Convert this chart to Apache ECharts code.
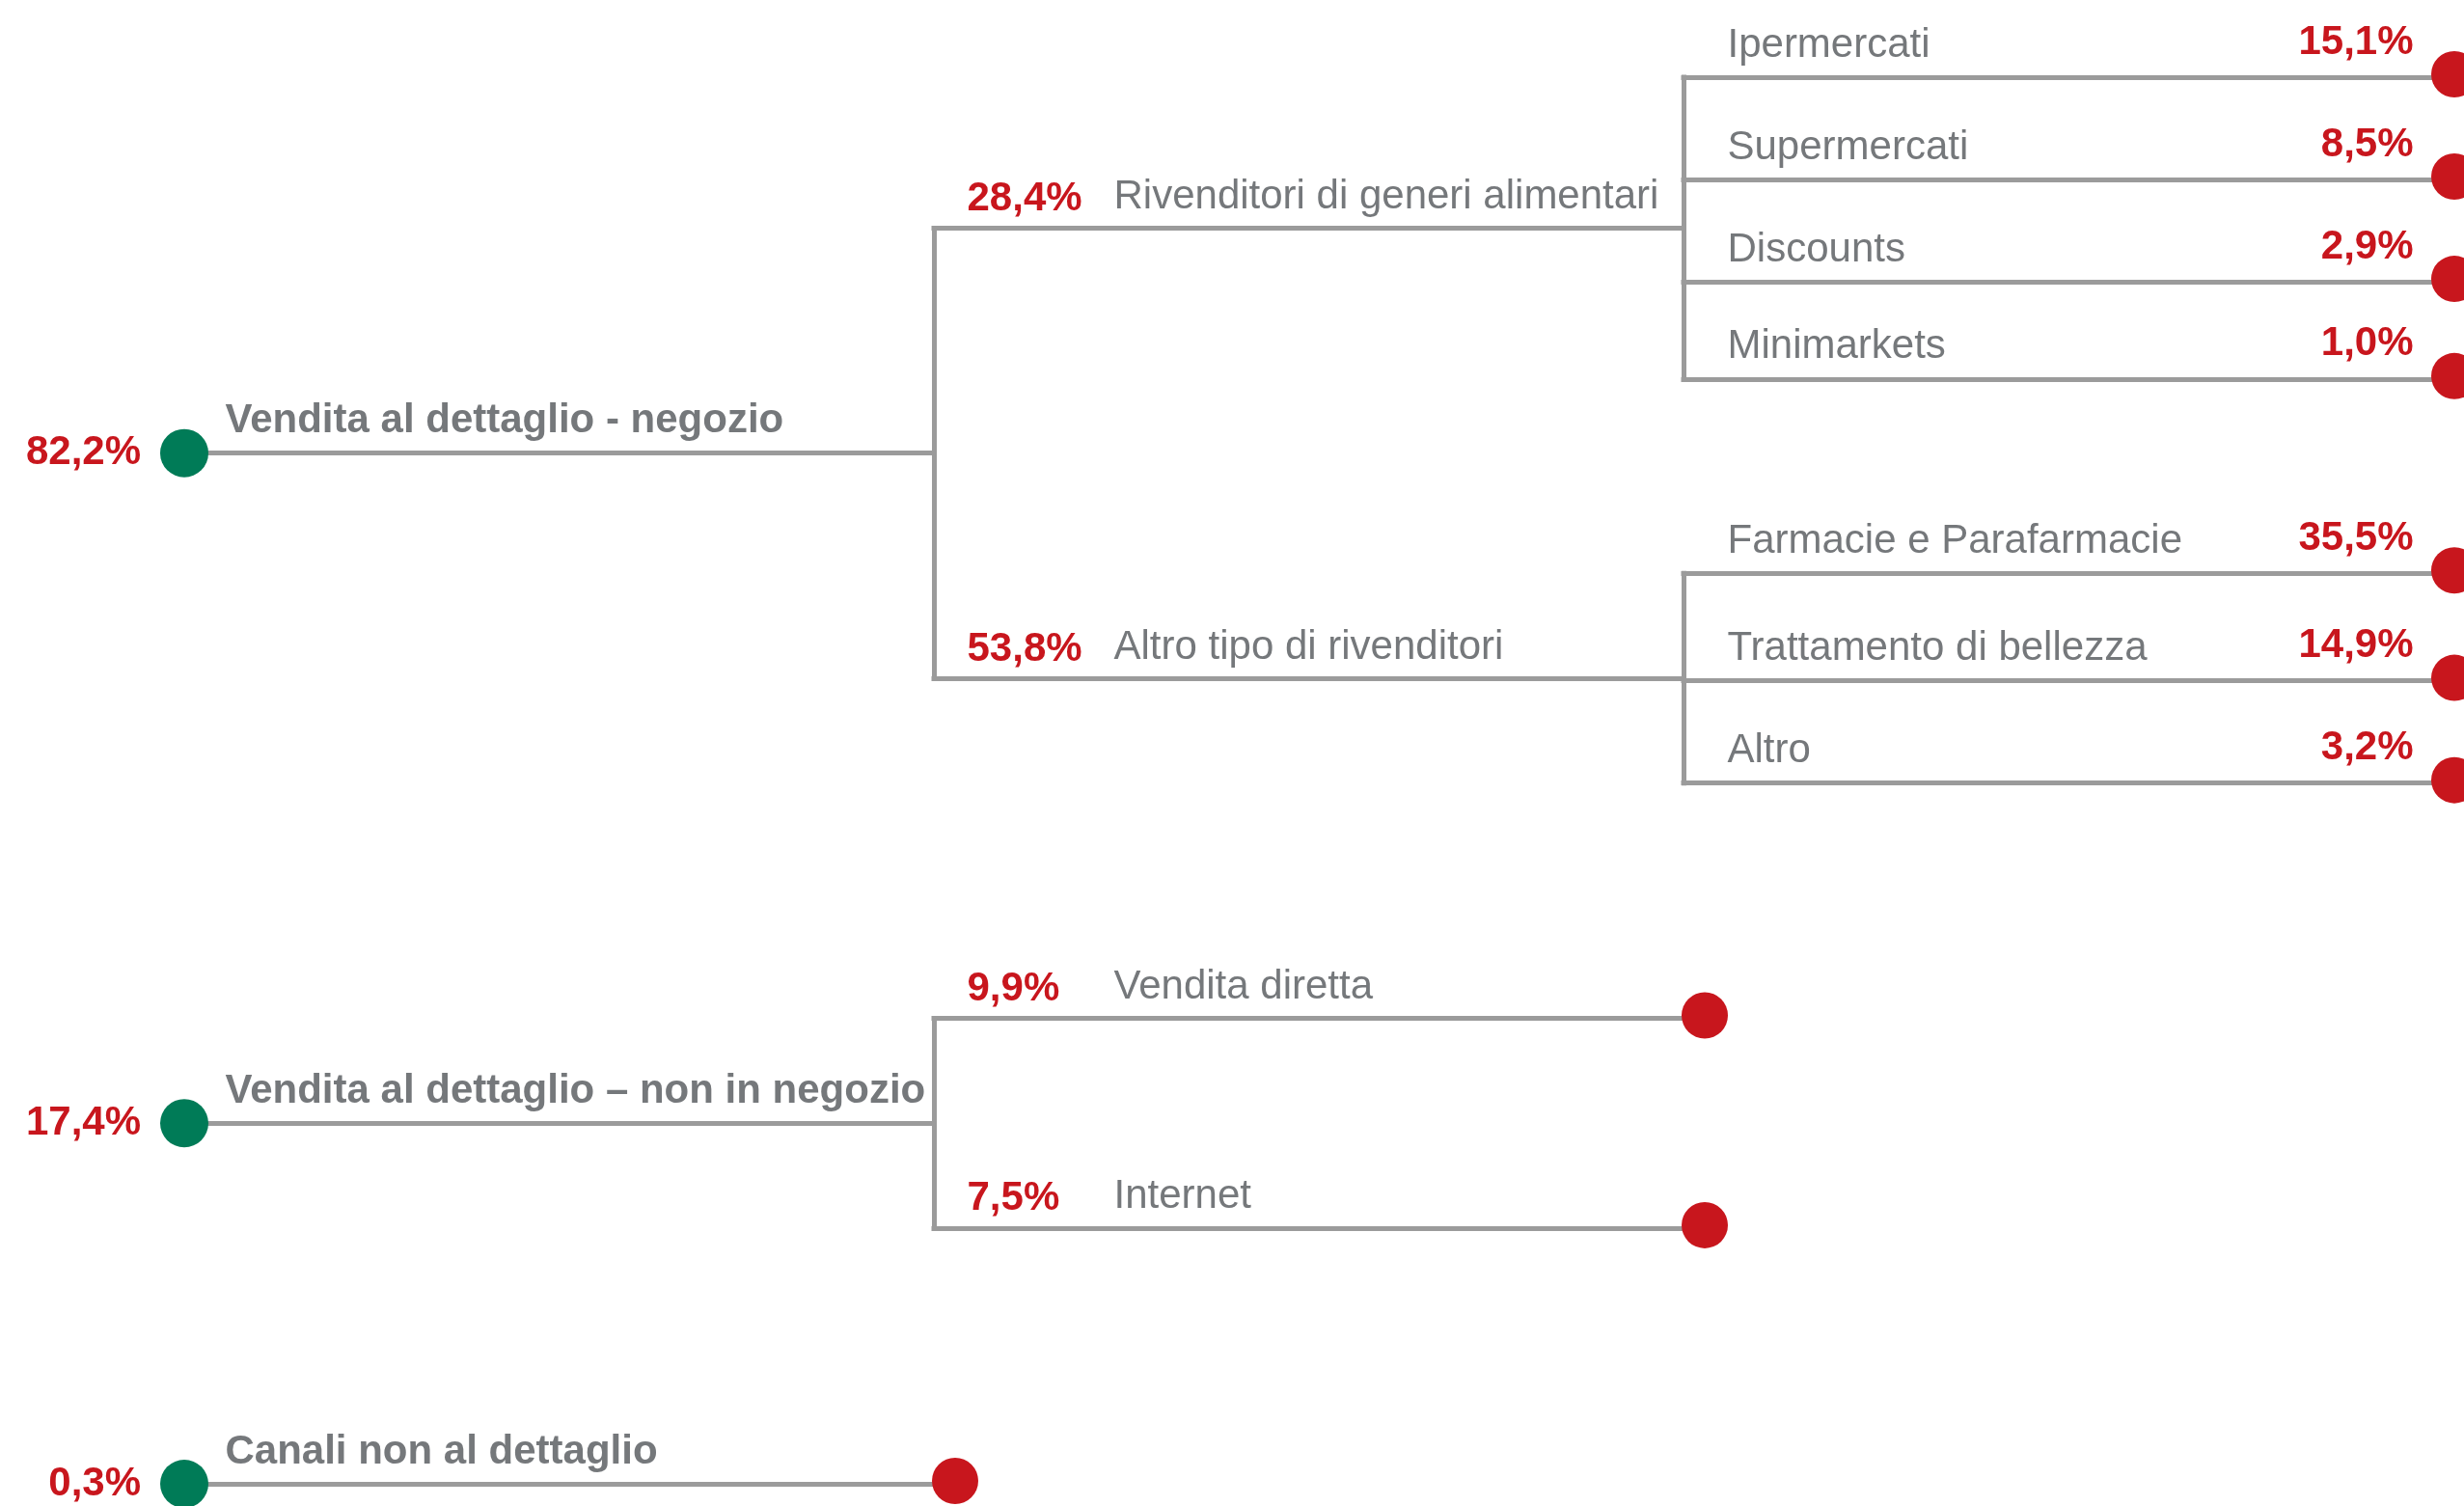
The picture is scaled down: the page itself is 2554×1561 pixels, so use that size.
<!DOCTYPE html>
<html>
<head>
<meta charset="utf-8">
<script src="https://cdn.jsdelivr.net/npm/echarts@6/dist/echarts.min.js"></script>
<style>
    html, body { margin: 0; padding: 0; background: #fff; }
    #chart { width: 2554px; height: 1561px; }
</style>
</head>
<body>
<div id="chart"></div>
<script>
// --- dati (quote %) ---
const channels = ['Vendita al dettaglio - negozio', 'Vendita al dettaglio – non in negozio', 'Canali non al dettaglio'];
const channelShares = [82.2, 17.4, 0.3];

const storeTypes = ['Rivenditori di generi alimentari', 'Altro tipo di rivenditori'];
const storeTypeShares = [28.4, 53.8];

const groceryOutlets = ['Ipermercati', 'Supermercati', 'Discounts', 'Minimarkets'];
const groceryShares = [15.1, 8.5, 2.9, 1.0];

const otherOutlets = ['Farmacie e Parafarmacie', 'Trattamento di bellezza', 'Altro'];
const otherShares = [35.5, 14.9, 3.2];

const nonStoreChannels = ['Vendita diretta', 'Internet'];
const nonStoreShares = [9.9, 7.5];

// layout: riga verticale di ogni foglia, dall'alto in basso
const leafRows = [0, 1, 2, 2.95, 4.85, 5.9, 6.9, 9.2, 11.25, 13.75];

const RED = '#c8161d';
const GREEN = '#007b57';
const TEXT_GRAY = '#75787b';
const LINE_GRAY = '#9b9b9b';
const FONT = '"Liberation Sans", Arial, sans-serif';
const FONT_SIZE = 42;

function makeNodes(names, shares, kids) {
    return names.map((name, i) => ({
        name: name,
        value: shares[i],
        children: kids ? kids[i] : []
    }));
}

const tree = makeNodes(channels, channelShares, [
    makeNodes(storeTypes, storeTypeShares, [
        makeNodes(groceryOutlets, groceryShares),
        makeNodes(otherOutlets, otherShares)
    ]),
    makeNodes(nonStoreChannels, nonStoreShares),
    []
]);

// posizioni: colonna = profondità, riga = foglie o media dei figli
let leafIndex = 0;
function place(node, depth) {
    node.depth = depth;
    if (node.children.length) {
        node.children.forEach(c => place(c, depth + 1));
        const first = node.children[0];
        const last = node.children[node.children.length - 1];
        node.y = (first.y + last.y) / 2;
    } else {
        node.y = leafRows[leafIndex++];
    }
}
tree.forEach(n => place(n, 0));

function pct(v) {
    return v.toFixed(1).replace('.', ',') + '%';
}

const segments = [];
const rootDots = [];
const leafDots = [];
const labels = [];

function textLabel(x, y, text, opts) {
    labels.push({
        value: [x, y],
        label: Object.assign({
            show: true,
            formatter: text,
            fontFamily: FONT,
            fontSize: FONT_SIZE,
            opacity: 1,
            distance: 0
        }, opts)
    });
}

function walk(node) {
    const d = node.depth;
    segments.push({ coords: [[d, node.y], [d + 1, node.y]] });

    if (node.children.length) {
        const first = node.children[0];
        const last = node.children[node.children.length - 1];
        segments.push({ coords: [[d + 1, first.y], [d + 1, last.y]] });
        node.children.forEach(walk);
    } else {
        leafDots.push([d + 1, node.y]);
    }

    if (d === 0) {
        rootDots.push({ value: [d, node.y], pct: pct(node.value) });
        textLabel(d, node.y, node.name, {
            position: 'right', offset: [42, -33],
            color: TEXT_GRAY, fontWeight: 'bold'
        });
    } else if (d === 1) {
        textLabel(d, node.y, pct(node.value), {
            position: 'right', offset: [34, -30],
            color: RED, fontWeight: 'bold'
        });
        textLabel(d, node.y, node.name, {
            position: 'right', offset: [186, -32],
            color: TEXT_GRAY
        });
    } else {
        textLabel(d, node.y, node.name, {
            position: 'right', offset: [45, -33],
            color: TEXT_GRAY
        });
        textLabel(d + 1, node.y, pct(node.value), {
            position: 'left', offset: [-20, -36],
            color: RED, fontWeight: 'bold'
        });
    }
}
tree.forEach(walk);

const chart = echarts.init(document.getElementById('chart'), null, { renderer: 'canvas' });

chart.setOption({
    animation: false,
    backgroundColor: '#fff',
    grid: { left: 191, right: 32, top: 80, bottom: 23 },
    xAxis: { type: 'value', min: 0, max: 3, show: false },
    yAxis: { type: 'value', min: 0, max: leafRows[leafRows.length - 1], inverse: true, show: false },
    series: [
        {
            type: 'lines',
            coordinateSystem: 'cartesian2d',
            data: segments,
            silent: true,
            clip: false,
            z: 1,
            lineStyle: { color: LINE_GRAY, width: 5, opacity: 1, cap: 'square' }
        },
        {
            type: 'scatter',
            data: rootDots,
            symbolSize: 50,
            clip: false,
            silent: true,
            z: 3,
            itemStyle: { color: GREEN, opacity: 1 },
            label: {
                show: true,
                position: 'left',
                distance: 20,
                formatter: p => p.data.pct,
                color: RED,
                opacity: 1,
                fontWeight: 'bold',
                fontFamily: FONT,
                fontSize: FONT_SIZE
            }
        },
        {
            type: 'scatter',
            data: leafDots,
            symbolSize: 48,
            symbolOffset: [22, -3],
            clip: false,
            silent: true,
            z: 3,
            itemStyle: { color: RED, opacity: 1 }
        },
        {
            type: 'scatter',
            data: labels,
            symbol: 'circle',
            symbolSize: 1,
            clip: false,
            silent: true,
            z: 4,
            itemStyle: { color: 'rgba(0,0,0,0)', opacity: 1 }
        }
    ]
});
</script>
</body>
</html>
